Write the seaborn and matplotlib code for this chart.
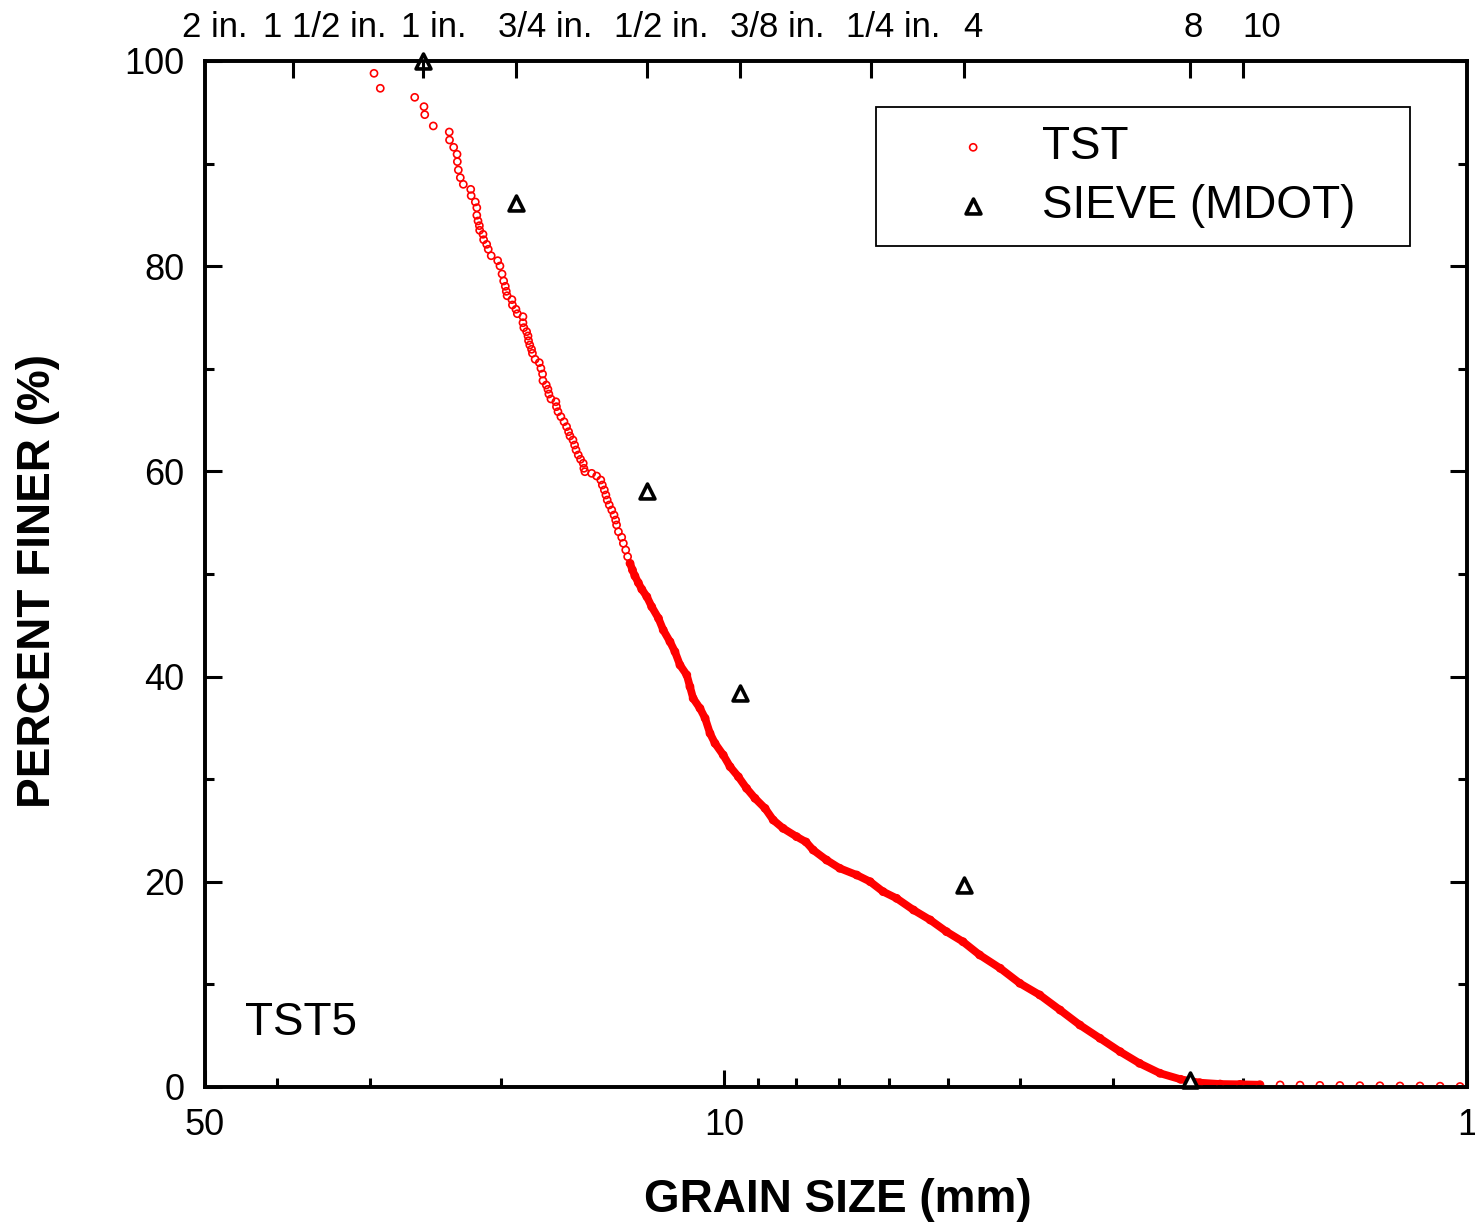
import matplotlib
matplotlib.use('Agg')
import matplotlib.pyplot as plt
import seaborn as sns
import numpy as np
from matplotlib.ticker import NullFormatter, NullLocator, FixedLocator

# ---------------- data ----------------
TST_SIZE_MM = [
    29.61, 29.04, 26.10, 25.36, 25.30, 24.64, 23.45, 23.43, 23.13, 22.89,
    22.87, 22.80, 22.66, 22.45, 21.94, 21.91, 21.63, 21.53, 21.53, 21.45,
    21.36, 21.34, 21.12, 21.08, 20.88, 20.78, 20.59, 20.18, 20.04, 19.91,
    19.81, 19.71, 19.65, 19.60, 19.31, 19.28, 19.07, 18.99, 18.66, 18.66,
    18.61, 18.45, 18.37, 18.34, 18.27, 18.17, 18.12, 17.97, 17.74, 17.65,
    17.56, 17.54, 17.36, 17.27, 17.22, 17.11, 16.85, 16.82, 16.74, 16.59,
    16.43, 16.30, 16.20, 16.13, 15.98, 15.90, 15.83, 15.72, 15.61, 15.48,
    15.45, 15.40, 15.08, 14.85, 14.66, 14.59, 14.50, 14.43, 14.37, 14.28,
    14.17, 14.07, 14.00, 13.96, 13.88, 13.74, 13.67, 13.57, 13.49, 13.39,
    13.29, 13.19, 13.05, 12.91, 12.71, 12.52, 12.26, 12.08, 11.83, 11.65,
    11.47, 11.23, 11.12, 11.01, 10.78, 10.61, 10.45, 10.29, 10.03, 9.82,
    9.57, 9.33, 9.09, 8.81, 8.59, 8.33, 7.99, 7.76, 7.59, 7.28,
    6.99, 6.63, 6.36, 6.11, 5.86, 5.56, 5.28, 5.02, 4.77, 4.53,
    4.25, 4.00, 3.76, 3.53, 3.32, 3.12, 2.93, 2.76, 2.59, 2.43,
    2.29, 2.15, 2.02,
    1.90, 1.785, 1.678, 1.578, 1.483, 1.394, 1.310, 1.231, 1.157, 1.087, 1.022,
]
TST_FINER = [
    98.80, 97.34, 96.46, 95.55, 94.77, 93.67, 93.08, 92.30, 91.59, 90.91,
    90.19, 89.38, 88.63, 87.98, 87.49, 86.87, 86.26, 85.70, 84.96, 84.41,
    83.95, 83.50, 83.11, 82.58, 82.13, 81.65, 81.02, 80.54, 80.02, 79.24,
    78.56, 78.04, 77.55, 77.12, 76.74, 76.22, 75.80, 75.37, 75.08, 74.49,
    74.01, 73.62, 73.20, 72.74, 72.32, 71.90, 71.51, 70.93, 70.60, 70.05,
    69.49, 68.84, 68.42, 68.00, 67.54, 67.06, 66.79, 66.31, 65.82, 65.33,
    64.84, 64.36, 63.87, 63.45, 63.06, 62.57, 62.09, 61.60, 61.18, 60.79,
    60.30, 59.97, 59.81, 59.55, 59.16, 58.67, 58.19, 57.70, 57.21, 56.73,
    56.24, 55.75, 55.26, 54.78, 54.12, 53.58, 52.99, 52.34, 51.69, 51.04,
    50.39, 49.81, 49.15, 48.51, 47.79, 46.81, 45.68, 44.54, 43.40, 42.43,
    41.13, 40.16, 39.02, 37.88, 36.91, 35.94, 34.47, 33.50, 32.36, 31.22,
    30.24, 29.11, 28.14, 27.16, 26.02, 25.21, 24.40, 23.88, 23.10, 22.12,
    21.32, 20.66, 20.01, 19.04, 18.39, 17.25, 16.28, 15.14, 14.16, 12.87,
    11.57, 10.11, 8.97, 7.50, 6.04, 4.75, 3.44, 2.31, 1.34, 0.75,
    0.42, 0.29, 0.26,
    0.22, 0.20, 0.18, 0.16, 0.15, 0.13, 0.12, 0.10, 0.10, 0.08, 0.05,
]
SIEVE_SIZE_MM = [25.4, 19.05, 12.7, 9.525, 4.75, 2.36]
SIEVE_FINER = [100.0, 86.2, 58.1, 38.4, 19.7, 0.7]

TOP_SIEVE_MM = [50.8, 38.1, 25.4, 19.05, 12.7, 9.525, 6.35, 4.75, 2.36, 2.0]
TOP_SIEVE_LABELS = ['2 in.', '1 1/2 in.', '1 in.', '3/4 in.', '1/2 in.',
                    '3/8 in.', '1/4 in.', '4', '8', '10']
TOP_LABEL_POS = [0.0075, 0.0950, 0.1815, 0.2694, 0.3613, 0.4532, 0.5452,
                 0.6086, 0.7829, 0.8376]

X_MAJOR = [50, 10, 1]
X_MAJOR_LABELS = ['50', '10', '1']
X_MINOR = [40, 30, 20, 9, 8, 7, 6, 5, 4, 3, 2]
Y_MAJOR = [0, 20, 40, 60, 80, 100]
Y_MINOR = [10, 30, 50, 70, 90]

# ---------------- style ----------------
sns.set_style('ticks')
plt.rcParams['font.family'] = ['Liberation Sans', 'DejaVu Sans']
for key in ('text.color', 'axes.labelcolor', 'xtick.color', 'ytick.color',
            'axes.edgecolor'):
    plt.rcParams[key] = 'black'

W, H = 1475, 1225
fig = plt.figure(figsize=(W / 100, H / 100), dpi=100)
ax = fig.add_axes([205 / W, 1 - 1087 / H, 1262 / W, 1026 / H])
ax.set_xscale('log')

tst_size = np.array(TST_SIZE_MM)
tst_finer = np.array(TST_FINER)
band = (tst_finer <= 51.1) & (tst_size >= 1.85)

# dense part of the TST record renders as a solid band
sns.lineplot(x=tst_size[band], y=tst_finer[band], color='red', lw=5.6,
             sort=False, estimator=None, legend=False, ax=ax, zorder=2)
sns.scatterplot(x=tst_size, y=tst_finer, marker='o', s=26, color='red',
                facecolor='none', edgecolor='red', linewidth=1.2,
                label='TST', ax=ax, zorder=3)
sns.scatterplot(x=SIEVE_SIZE_MM, y=SIEVE_FINER, marker='^', s=115,
                color='black', facecolor='white', edgecolor='black',
                linewidth=2.6, label='SIEVE (MDOT)', ax=ax, zorder=5,
                clip_on=False)

handles, labels = ax.get_legend_handles_labels()
if ax.get_legend() is not None:
    ax.get_legend().remove()

ax.set_xlim(50, 1)
ax.set_ylim(0, 100)
ax.set_xlabel('')
ax.set_ylabel('')

ax.xaxis.set_major_locator(FixedLocator(X_MAJOR))
ax.set_xticklabels(X_MAJOR_LABELS)
ax.xaxis.set_minor_locator(FixedLocator(X_MINOR))
ax.xaxis.set_minor_formatter(NullFormatter())
ax.set_yticks(Y_MAJOR)
ax.set_yticks(Y_MINOR, minor=True)

for s in ax.spines.values():
    s.set_linewidth(2.6)
    s.set_color('black')

ax.tick_params(axis='both', which='major', direction='in', length=12,
               width=2.2, labelsize=26, colors='black')
ax.tick_params(axis='x', which='major', pad=15)
ax.tick_params(axis='y', which='major', pad=15)
ax.tick_params(axis='both', which='minor', direction='in', length=6.5,
               width=2.2, colors='black')
ax.tick_params(axis='y', which='both', left=True, right=True)
ax.tick_params(axis='x', which='both', bottom=True, top=False)

# top axis with sieve sizes
ax2 = ax.twiny()
ax2.set_xscale('log')
ax2.set_xlim(ax.get_xlim())
ax2.xaxis.set_major_locator(FixedLocator(TOP_SIEVE_MM))
ax2.xaxis.set_major_formatter(NullFormatter())
ax2.xaxis.set_minor_locator(NullLocator())
ax2.tick_params(axis='x', which='major', direction='in', length=12,
                width=2.2, top=True, bottom=False, colors='black')
for s in ax2.spines.values():
    s.set_linewidth(2.6)
    s.set_color('black')
for lab, xp in zip(TOP_SIEVE_LABELS, TOP_LABEL_POS):
    ax.text(xp, 1.0234, lab, transform=ax.transAxes, ha='center',
            va='baseline', fontsize=25, color='black', clip_on=False)

# axis titles
fig.text(38 / W, 1 - 581 / H, 'PERCENT FINER (%)', rotation=90,
         ha='center', va='center', fontsize=33, fontweight='bold',
         color='black')
fig.text(838 / W, 1 - 1200 / H, 'GRAIN SIZE (mm)', ha='center',
         va='center', fontsize=33, fontweight='bold', color='black')

ax.text(0.0317, 0.0507, 'TST5', transform=ax.transAxes, ha='left',
        va='baseline', fontsize=33, color='black')

keep = [(h, l) for h, l in zip(handles, labels) if l in ('TST', 'SIEVE (MDOT)')]
leg_x0 = (876 - 205) / 1262
leg_w = (1410 - 876) / 1262
leg_top = (1087 - 107) / 1026
leg = ax2.legend([k[0] for k in keep], [k[1] for k in keep],
                 loc='upper left', bbox_to_anchor=(leg_x0, 0.0, leg_w, leg_top),
                 mode='expand', borderaxespad=0, fontsize=33, frameon=True,
                 fancybox=False, framealpha=1, edgecolor='black',
                 handlelength=3.44, handletextpad=-0.21, borderpad=0.4,
                 labelspacing=0.32)
leg.get_frame().set_linewidth(1.3)
for t in leg.get_texts():
    t.set_color('black')

fig.savefig('out.png', dpi=100)
